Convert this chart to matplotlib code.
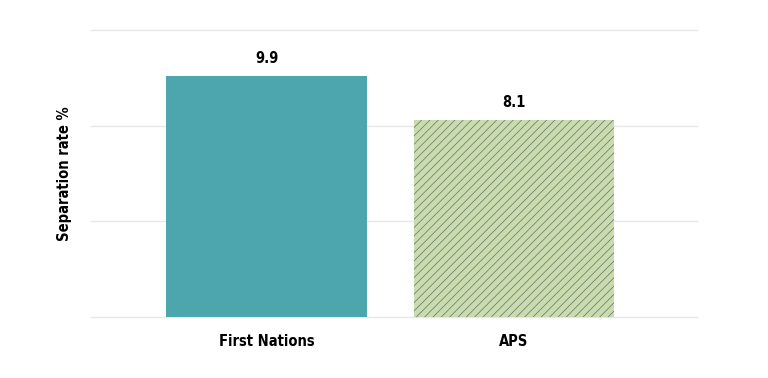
import matplotlib.pyplot as plt

categories = ["First Nations", "APS"]
values = [9.9, 8.1]
colors = ["#4da5ad", "#c9dcb0"]
hatches = [None, "////"]

plt.rcParams['font.family'] = ['DejaVu Sans']
plt.rcParams['font.stretch'] = 'condensed'
plt.rcParams['hatch.color'] = '#66705f'
plt.rcParams['hatch.linewidth'] = 0.5

fig = plt.figure(figsize=(7.68, 3.78), dpi=100)
ax = fig.add_axes([0.1185, 0.1614, 0.7891, 0.7592])

x = range(len(categories))
bars = ax.bar(x, values, width=0.81, color=colors, zorder=3)
for b, h in zip(bars, hatches):
    if h:
        b.set_hatch(h)

# value labels above bars
for xi, v in zip(x, values):
    ax.text(xi, v + 0.4, f"{v}", ha='center', va='bottom', fontsize=10.5, fontweight='bold')

ymax = 11.8
ax.set_xlim(-0.71, 1.74)
ax.set_ylim(0, ymax)
ax.set_yticks([0, ymax / 3, ymax * 2 / 3, ymax])
ax.set_yticklabels([])
ax.tick_params(axis='y', length=0)
ax.tick_params(axis='x', length=0, pad=12)
ax.set_xticks(list(x))
ax.set_xticklabels(categories, fontsize=10.5, fontweight='bold')
ax.grid(axis='y', color='#e6e6e6', linewidth=1, zorder=0, clip_on=False)
for s in ax.spines.values():
    s.set_visible(False)
ax.set_ylabel("Separation rate %", fontsize=10.5, fontweight='bold', labelpad=10)

fig.savefig("out.png", dpi=100)
